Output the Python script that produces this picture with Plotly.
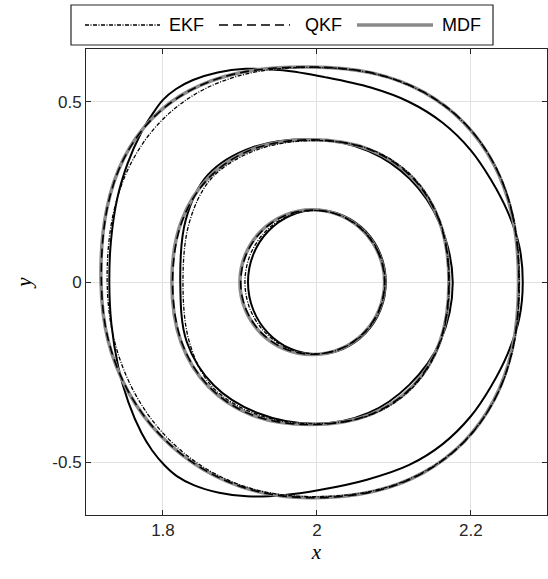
import plotly.graph_objects as go

# ---- trajectories: each series is three closed loops (inner, middle, outer) ----
# true state (solid black)
true_inner_x = [2.0895, 2.0827, 2.0633, 2.0343, 2.0, 1.9657, 1.9367, 1.9173, 1.9105, 1.9173, 1.9367, 1.9657, 2.0, 2.0343, 2.0633, 2.0827]
true_inner_y = [0, 0.0765, 0.1414, 0.1848, 0.2, 0.1848, 0.1414, 0.0765, 0, -0.0765, -0.1414, -0.1848, -0.2, -0.1848, -0.1414, -0.0765]
true_mid_x = [2.1765, 2.159, 2.121, 2.067, 1.9995, 1.916, 1.858, 1.8295, 1.8225, 1.831, 1.866, 1.923, 1.9995, 2.067, 2.12, 2.16]
true_mid_y = [0, 0.166, 0.286, 0.364, 0.396, 0.374, 0.297, 0.172, 0, -0.166, -0.286, -0.363, -0.393, -0.363, -0.285, -0.166]
true_outer_x = [2.2675, 2.263, 2.248, 2.226, 2.2, 2.163, 2.12, 2.07, 2.01, 1.956, 1.907, 1.871, 1.839, 1.817, 1.8,
                1.785, 1.771, 1.754, 1.741, 1.7325, 1.7303, 1.733, 1.742, 1.755, 1.772, 1.786, 1.802, 1.818, 1.84,
                1.873, 1.909, 1.956, 2.005, 2.065, 2.12, 2.163, 2.2, 2.226, 2.248, 2.263]
true_outer_y = [0, 0.10, 0.195, 0.285, 0.366, 0.443, 0.500, 0.540, 0.569, 0.588, 0.592, 0.582, 0.561, 0.536, 0.506,
                0.462, 0.412, 0.329, 0.236, 0.116, 0, -0.116, -0.236, -0.333, -0.418, -0.467, -0.508, -0.538, -0.563,
                -0.584, -0.594, -0.591, -0.576, -0.548, -0.507, -0.45, -0.372, -0.29, -0.198, -0.10]

# EKF estimate (dash-dot)
ekf_inner_x = [2.0885, 2.0816, 2.0618, 2.0323, 1.9975, 1.9627, 1.9332, 1.9134, 1.9065, 1.9134, 1.9332, 1.9627, 1.9975, 2.0323, 2.0618, 2.0816]
ekf_inner_y = [0, 0.0762, 0.1407, 0.1839, 0.199, 0.1839, 0.1407, 0.0762, 0, -0.0762, -0.1407, -0.1839, -0.199, -0.1839, -0.1407, -0.0762]
ekf_mid_x = [2.172, 2.1602, 2.126, 2.0724, 1.9975, 1.921, 1.8635, 1.8345, 1.826, 1.8345, 1.8635, 1.921, 1.9975, 2.0724, 2.126, 2.1602]
ekf_mid_y = [0, 0.1674, 0.2889, 0.3663, 0.393, 0.3663, 0.2889, 0.1674, 0, -0.1674, -0.2889, -0.3663, -0.393, -0.3663, -0.2889, -0.1674]
ekf_outer_x = [2.263, 2.2549, 2.2308, 2.1918, 2.1392, 2.0743, 1.9903, 1.9085, 1.8455, 1.7952, 1.7578, 1.7349, 1.7275,
               1.7365, 1.762, 1.8025, 1.856, 1.9195, 1.9903, 2.0743, 2.1392, 2.1918, 2.2308, 2.2549]
ekf_outer_y = [0, 0.1839, 0.3262, 0.4409, 0.5259, 0.5783, 0.596, 0.5778, 0.5262, 0.4418, 0.3272, 0.1846, 0,
               -0.1592, -0.3028, -0.4246, -0.5175, -0.5755, -0.595, -0.5783, -0.5259, -0.4409, -0.3262, -0.1839]

# QKF estimate (dashed)
qkf_inner_x = [2.088, 2.0809, 2.0606, 2.0303, 1.9945, 1.9587, 1.9284, 1.9081, 1.901, 1.9081, 1.9284, 1.9587, 1.9945, 2.0303, 2.0606, 2.0809]
qkf_inner_y = [0, 0.0765, 0.1414, 0.1848, 0.2, 0.1848, 0.1414, 0.0765, 0, -0.0765, -0.1414, -0.1848, -0.2, -0.1848, -0.1414, -0.0765]
qkf_mid_x = [2.1715, 2.1593, 2.1239, 2.0685, 1.992, 1.9155, 1.8601, 1.8247, 1.8125, 1.8247, 1.8601, 1.9155, 1.992, 2.0685, 2.1239, 2.1593]
qkf_mid_y = [0, 0.1683, 0.2903, 0.3681, 0.395, 0.3681, 0.2903, 0.1683, 0, -0.1683, -0.2903, -0.3681, -0.395, -0.3681, -0.2903, -0.1683]
qkf_outer_x = [2.2625, 2.2544, 2.2305, 2.1917, 2.1393, 2.0744, 1.9905, 1.8988, 1.8351, 1.7855, 1.7493, 1.7273, 1.72,
               1.729, 1.7553, 1.7975, 1.8529, 1.9181, 1.9905, 2.0744, 2.1393, 2.1917, 2.2305, 2.2544]
qkf_outer_y = [0, 0.1843, 0.3267, 0.4417, 0.5268, 0.5793, 0.597, 0.5804, 0.5318, 0.4522, 0.3427, 0.2023, 0,
               -0.16, -0.304, -0.4262, -0.5195, -0.578, -0.598, -0.5802, -0.5277, -0.4424, -0.3273, -0.1846]

# MDF estimate (thick grey)
mdf_inner_x = [2.088, 2.0808, 2.0605, 2.03, 1.994, 1.958, 1.9275, 1.9072, 1.900, 1.9072, 1.9275, 1.958, 1.994, 2.03, 2.0605, 2.0808]
mdf_inner_y = [0, 0.0769, 0.1421, 0.1857, 0.201, 0.1857, 0.1421, 0.0769, 0, -0.0769, -0.1421, -0.1857, -0.201, -0.1857, -0.1421, -0.0769]
mdf_mid_x = [2.1716, 2.1594, 2.1239, 2.0683, 1.9916, 1.9149, 1.8593, 1.8238, 1.8116, 1.8238, 1.8593, 1.9149, 1.9916, 2.0683, 2.1239, 2.1594]
mdf_mid_y = [0, 0.1683, 0.2903, 0.3681, 0.395, 0.3681, 0.2903, 0.1683, 0, -0.1683, -0.2903, -0.3681, -0.395, -0.3681, -0.2903, -0.1683]
mdf_outer_x = [2.262, 2.2539, 2.23, 2.1913, 2.139, 2.0742, 1.9903, 1.8985, 1.8348, 1.7851, 1.7489, 1.7269, 1.7195,
               1.7285, 1.7549, 1.7972, 1.8526, 1.9179, 1.9903, 2.0742, 2.139, 2.1913, 2.23, 2.2539]
mdf_outer_y = [0, 0.1843, 0.3267, 0.4417, 0.5268, 0.5793, 0.597, 0.5806, 0.5321, 0.4525, 0.3429, 0.2024, 0,
               -0.16, -0.3041, -0.4264, -0.5197, -0.5781, -0.598, -0.5802, -0.5277, -0.4424, -0.3273, -0.1846]

x_ticks = [1.8, 2.0, 2.2]
x_tick_text = ["1.8", "2", "2.2"]
y_ticks = [-0.5, 0.0, 0.5]
y_tick_text = ["-0.5", "0", "0.5"]
legend_names = ["EKF", "QKF", "MDF"]

INK = "#262626"
GREY = "#8a8a8a"
DASHDOT = "4px,1.5px,1px,1.5px"
DASH = "9px,5px"


def loops(*pairs):
    """Join closed loops into one path (first point repeated), with gaps between loops."""
    xs, ys = [], []
    for lx, ly in pairs:
        xs += list(lx) + [lx[0], None]
        ys += list(ly) + [ly[0], None]
    return xs[:-1], ys[:-1]


fig = go.Figure()

series = [
    ("true", (true_inner_x, true_inner_y), (true_mid_x, true_mid_y), (true_outer_x, true_outer_y),
     dict(color="black", width=2.0)),
    ("MDF", (mdf_inner_x, mdf_inner_y), (mdf_mid_x, mdf_mid_y), (mdf_outer_x, mdf_outer_y),
     dict(color=GREY, width=3.5)),
    ("EKF", (ekf_inner_x, ekf_inner_y), (ekf_mid_x, ekf_mid_y), (ekf_outer_x, ekf_outer_y),
     dict(color="black", width=1.3, dash=DASHDOT)),
    ("QKF", (qkf_inner_x, qkf_inner_y), (qkf_mid_x, qkf_mid_y), (qkf_outer_x, qkf_outer_y),
     dict(color="black", width=1.6, dash=DASH)),
]
for name, a, b, c, style in series:
    xs, ys = loops(a, b, c)
    fig.add_trace(go.Scatter(x=xs, y=ys, mode="lines", name=name, connectgaps=False,
                             line=dict(shape="spline", smoothing=1.0, **style),
                             showlegend=False, hoverinfo="skip"))

axis_common = dict(
    ticks="inside", ticklen=5, tickwidth=1, tickcolor=INK,
    showline=True, linecolor=INK, linewidth=1, mirror="ticks",
    showgrid=True, gridcolor="#e2e2e2", gridwidth=1, zeroline=False,
    tickfont=dict(family="Liberation Sans, Arial, sans-serif", size=17, color=INK),
)
fig.update_xaxes(range=[1.7, 2.299], tickvals=x_ticks, ticktext=x_tick_text,
                 title=dict(text="<i>x</i>", font=dict(family="Liberation Serif, serif", size=21, color="black"),
                            standoff=4),
                 **axis_common)
fig.update_yaxes(range=[-0.646, 0.647], tickvals=y_ticks, ticktext=y_tick_text,
                 title=dict(text="<i>y</i>", font=dict(family="Liberation Serif, serif", size=21, color="black"),
                            standoff=14),
                 **axis_common)

# legend box above the axes: sample lines + labels
L, PW, T, PH = 86, 461, 49, 466


def px(xp):
    return (xp - L) / PW


def py(yp):
    return (T + PH - yp) / PH


shapes = [dict(type="rect", xref="paper", yref="paper", x0=px(71), x1=px(493), y0=py(45), y1=py(5),
               line=dict(color=INK, width=1.2), fillcolor="white", layer="above")]
samples = [
    (85, 160, 167, dict(color="black", width=1.3, dash=DASHDOT)),
    (219, 290, 303, dict(color="black", width=1.6, dash=DASH)),
    (357, 433, 440, dict(color=GREY, width=3.5)),
]
annotations = []
for (x0, x1, xt, st), label in zip(samples, legend_names):
    shapes.append(dict(type="line", xref="paper", yref="paper", x0=px(x0), x1=px(x1), y0=py(25), y1=py(25),
                       line=st, layer="above"))
    annotations.append(dict(xref="paper", yref="paper", x=px(xt), y=py(25), text=label, showarrow=False,
                            xanchor="left", yanchor="middle",
                            font=dict(family="Liberation Sans, Arial, sans-serif", size=18, color="black")))

fig.update_layout(
    width=548, height=579,
    margin=dict(l=L, r=548 - L - PW, t=T, b=579 - T - PH),
    plot_bgcolor="white", paper_bgcolor="white",
    showlegend=False, shapes=shapes, annotations=annotations,
)

fig.write_html("out.html")
